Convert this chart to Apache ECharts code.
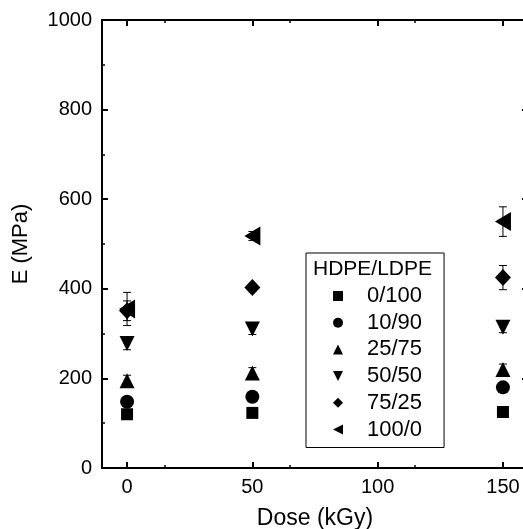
<!DOCTYPE html>
<html>
<head>
<meta charset="utf-8">
<script src="https://cdn.jsdelivr.net/npm/echarts@6/dist/echarts.min.js"></script>
<style>
html,body{margin:0;padding:0;background:#fff;}
#chart{width:523px;height:529px;}
</style>
</head>
<body>
<div id="chart"></div>
<script>
var doses = [0, 50, 150];
var seriesNames = ['0/100', '10/90', '25/75', '50/50', '75/25', '100/0'];
var v0_100 = [120, 123, 125];
var v10_90 = [148, 159, 180];
var v25_75 = [195, 212, 220];
var v50_50 = [278, 310, 314];
var v75_25 = [351, 403, 425];
var v100_0 = [355, 518, 550];
var e0_100 = [4, 4, 4];
var e10_90 = [5, 5, 8];
var e25_75 = [12, 12, 12];
var e50_50 = [14, 12, 12];
var e75_25 = [22, 8, 27];
var e100_0 = [37, 10, 33];
var yTicks = [0, 200, 400, 600, 800, 1000];
var xTicks = [0, 50, 100, 150];

var values = [v0_100, v10_90, v25_75, v50_50, v75_25, v100_0];
var errors = [e0_100, e10_90, e25_75, e50_50, e75_25, e100_0];
var symbols = ['rect', 'circle', 'triangle', 'triangle', 'diamond', 'triangle'];
var rotates = [0, 0, 0, 180, 0, 90];
var sizes = [12, 14, 15, 15, [16, 17], [19, 16]];
var legendIcons = ['rect', 'circle', 'triangle', 'path://M0,0 L10,0 L5,10 Z', 'diamond', 'path://M10,0 L10,10 L0,5 Z'];

var FONT = 'Liberation Sans, Arial, Helvetica, sans-serif';
var chart = echarts.init(document.getElementById('chart'), null, {renderer: 'canvas'});

var series = [];
var errData = [];
values.forEach(function (vals, i) {
  vals.forEach(function (v, j) {
    errData.push([doses[j], v - errors[i][j], v + errors[i][j]]);
  });
});
series.push({
  type: 'custom',
  name: 'err',
  silent: true,
  z: 1,
  renderItem: function (params, api) {
    var x = api.value(0);
    var lo = api.coord([x, api.value(1)]);
    var hi = api.coord([x, api.value(2)]);
    var cw = 4;
    var st = {stroke: '#000', lineWidth: 1};
    return {
      type: 'group',
      children: [
        {type: 'line', shape: {x1: lo[0], y1: lo[1], x2: hi[0], y2: hi[1]}, style: st},
        {type: 'line', shape: {x1: lo[0] - cw, y1: lo[1], x2: lo[0] + cw, y2: lo[1]}, style: st},
        {type: 'line', shape: {x1: hi[0] - cw, y1: hi[1], x2: hi[0] + cw, y2: hi[1]}, style: st}
      ]
    };
  },
  encode: {x: 0, y: [1, 2]},
  data: errData
});
values.forEach(function (vals, i) {
  series.push({
    type: 'scatter',
    name: seriesNames[i],
    symbol: symbols[i],
    symbolRotate: rotates[i],
    symbolSize: sizes[i],
    itemStyle: {color: '#000', opacity: 1},
    z: 3,
    data: vals.map(function (v, j) { return [doses[j], v]; })
  });
});

function axisLine() { return {show: true, onZero: false, lineStyle: {color: '#000', width: 2}}; }
function tick(vals) {
  var t = {show: true, inside: true, length: 6, lineStyle: {color: '#000', width: 2}};
  if (vals) t.customValues = vals;
  return t;
}
function minor() { return {show: true, splitNumber: 2, length: 3, lineStyle: {color: '#000', width: 1.5}}; }

var option = {
  animation: false,
  backgroundColor: '#fff',
  grid: {left: 102, top: 20, width: 426, height: 448, containLabel: false, outerBoundsMode: 'none'},
  legend: {
    data: seriesNames.map(function (n, i) { return {name: n, icon: legendIcons[i]}; }),
    orient: 'vertical',
    left: 306,
    top: 253,
    padding: [32, 22, 7, 27],
    itemWidth: 10,
    itemHeight: 10,
    itemGap: 4.7,
    symbolKeepAspect: true,
    borderColor: '#000',
    borderWidth: 1,
    backgroundColor: 'rgba(0,0,0,0)',
    selectedMode: false,
    textStyle: {fontFamily: FONT, fontSize: 22, color: '#000', padding: [0, 0, 0, 19]}
  },
  graphic: [{
    type: 'text',
    left: 313,
    top: 259,
    z: 100,
    style: {text: 'HDPE/LDPE', fontFamily: FONT, fontSize: 21, fill: '#000'}
  }],
  xAxis: [{
    type: 'value', min: -10, max: 160, interval: 50,
    name: 'Dose (kGy)', nameLocation: 'middle', nameGap: 39,
    nameTextStyle: {fontFamily: FONT, fontSize: 23, color: '#000'},
    axisLine: axisLine(),
    axisTick: tick(xTicks),
    minorTick: minor(),
    axisLabel: {fontFamily: FONT, fontSize: 20, color: '#000', margin: 9, customValues: xTicks},
    splitLine: {show: false}
  }, {
    type: 'value', min: -10, max: 160, interval: 50, position: 'top',
    axisLine: axisLine(),
    axisTick: tick(xTicks),
    minorTick: minor(),
    axisLabel: {show: false},
    splitLine: {show: false}
  }],
  yAxis: [{
    type: 'value', min: 0, max: 1000, interval: 200,
    name: 'E (MPa)', nameLocation: 'middle', nameGap: 70, nameRotate: 90,
    nameTextStyle: {fontFamily: FONT, fontSize: 22, color: '#000'},
    axisLine: axisLine(),
    axisTick: tick(),
    minorTick: minor(),
    axisLabel: {fontFamily: FONT, fontSize: 20, color: '#000', margin: 10, formatter: function (v) { return String(v); }},
    splitLine: {show: false}
  }, {
    type: 'value', min: 0, max: 1000, interval: 200, position: 'right',
    axisLine: axisLine(),
    axisTick: tick(),
    minorTick: minor(),
    axisLabel: {show: false},
    splitLine: {show: false}
  }],
  series: series
};
chart.setOption(option);
</script>
</body>
</html>
